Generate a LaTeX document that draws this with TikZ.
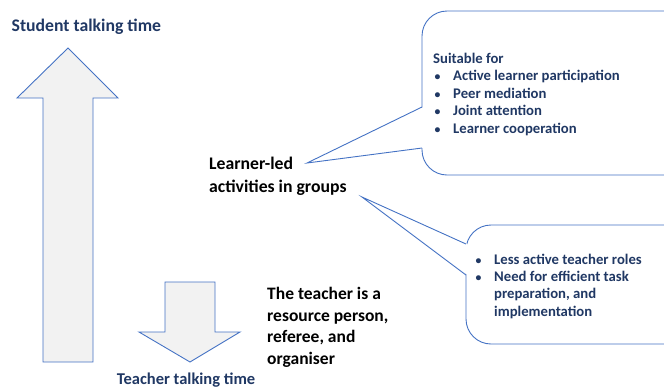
\documentclass[tikz,border=0pt]{standalone}
\usepackage{fontspec}
\setmainfont{Carlito}
\definecolor{navy}{HTML}{203864}
\definecolor{edgeblue}{HTML}{4472C4}
\definecolor{arrowfill}{HTML}{F2F2F2}
\newcommand{\bul}[2][20bp]{\makebox[#1][l]{\hspace{1.5bp}\scalebox{0.8}{\textbullet}}#2}

\begin{document}
\begin{tikzpicture}[x=1bp, y=-1bp,
  every node/.style={inner sep=0pt},
  bigarrow/.style={draw=edgeblue, fill=arrowfill, line width=0.9pt},
  callout/.style={draw=edgeblue, fill=white, line width=0.9pt},
  axislabel/.style={text=navy, font=\fontsize{17.7bp}{20bp}\selectfont\bfseries, anchor=base west},
  plainlabel/.style={text=black, align=left, anchor=base west},
  calltext/.style={text=navy, align=left, anchor=base west}]
  \useasboundingbox (0,0) rectangle (664,388);
  \clip (0,0) rectangle (664,388);
  % arrows for talking time
  \draw[bigarrow] (43,362) -- (43,98) -- (17,98) -- (68,48) -- (118,98) -- (93,98) -- (93,362) -- cycle;
  \draw[bigarrow] (165,282) -- (215,282) -- (215,332) -- (240,332) -- (190,362) -- (139,332) -- (165,332) -- cycle;
  \node[axislabel] (student) at (11.5,31) {Student talking time};
  \node[axislabel, font=\fontsize{16.5bp}{20bp}\selectfont\bfseries] (teacher) at (116.7,384) {Teacher talking time};
  % upper callout
  \draw[callout, rounded corners=25bp] (422,11) rectangle (700,175);
  \fill[white] (423.5,107) -- (307,163) -- (423.5,148) -- cycle;
  \draw[callout, fill=none] (422,107) -- (307,163) -- (422,148);
  % lower callout
  \draw[callout, rounded corners=25bp] (466,225) rectangle (700,344);
  \fill[white] (467.5,244) -- (362,197) -- (467.5,275) -- cycle;
  \draw[callout, fill=none] (466,244) -- (362,197) -- (466,275);
  % texts (base anchor = baseline of last line)
  \node[plainlabel, font=\fontsize{17.7bp}{22.4bp}\selectfont\bfseries] (groups) at (209,192)
    {Learner-led\\activities in groups};
  \node[plainlabel, font=\fontsize{17.5bp}{21.6bp}\selectfont\bfseries] (role) at (267,364.3)
    {The teacher is a\\resource person,\\referee, and\\organiser};
  \node[calltext, font=\fontsize{14.7bp}{17.5bp}\selectfont\bfseries] (suitable) at (433,133.3)
    {Suitable for\\\bul{Active learner participation}\\\bul{Peer mediation}\\\bul{Joint attention}\\\bul{Learner cooperation}};
  \node[calltext, font=\fontsize{14.7bp}{17.3bp}\selectfont\bfseries] (needs) at (474,316)
    {\bul{Less active teacher roles}\\\bul{Need for efficient task}\\\hspace{20bp}preparation, and\\\hspace{20bp}implementation};
\end{tikzpicture}
\end{document}
